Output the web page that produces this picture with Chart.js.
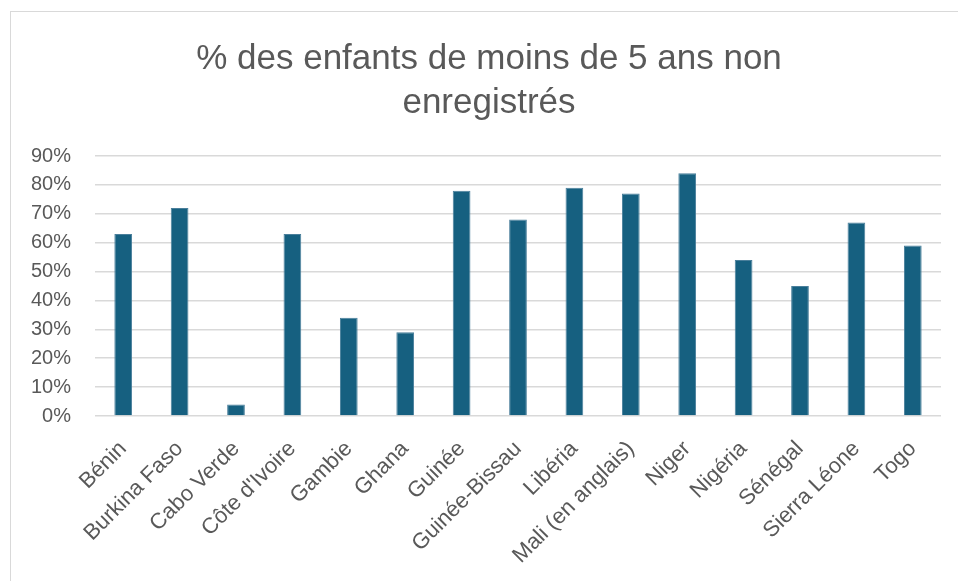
<!DOCTYPE html>
<html>
<head>
<meta charset="utf-8">
<script src="https://cdn.jsdelivr.net/npm/chart.js@4/dist/chart.umd.min.js"></script>
<style>
  html, body { margin: 0; padding: 0; background: #ffffff; }
  #frame { position: absolute; left: 10px; top: 11px; width: 980px; height: 600px; border: 1.5px solid #d9d9d9; box-sizing: border-box; }
  #wrap { position: absolute; left: 0; top: 0; width: 958px; height: 581px; }
</style>
</head>
<body>
<div id="frame"></div>
<div id="wrap"><canvas id="c" width="958" height="581"></canvas></div>
<script>
const categories = ["Bénin", "Burkina Faso", "Cabo Verde", "Côte d'Ivoire", "Gambie", "Ghana", "Guinée", "Guinée-Bissau", "Libéria", "Mali (en anglais)", "Niger", "Nigéria", "Sénégal", "Sierra Léone", "Togo"];
const values = [63, 72, 4, 63, 34, 29, 78, 68, 79, 77, 84, 54, 45, 67, 59];
const yTicks = [0, 10, 20, 30, 40, 50, 60, 70, 80, 90];
const titleLines = ["% des enfants de moins de 5 ans non", "enregistrés"];

const FONT = "'Liberation Sans', Arial, sans-serif";
const TXT = '#595959';

new Chart(document.getElementById('c'), {
  type: 'bar',
  data: {
    labels: categories,
    datasets: [{
      data: values,
      yAxisID: 'y',
      backgroundColor: '#166080',
      borderColor: '#4a7f9b',
      borderWidth: 1,
      barPercentage: 0.314,
      categoryPercentage: 1.0
    }]
  },
  options: {
    responsive: false,
    animation: false,
    devicePixelRatio: 1,
    layout: { padding: { top: 37, left: 20, right: 0, bottom: 0 } },
    plugins: {
      legend: { display: false },
      tooltip: { enabled: false },
      title: {
        display: true,
        text: titleLines,
        color: TXT,
        font: { family: FONT, size: 35, weight: 'normal', lineHeight: 1.257 },
        padding: { top: 0, bottom: 31 }
      }
    },
    scales: {
      x: {
        grid: { display: false },
        border: { display: false },
        ticks: {
          color: TXT,
          font: { family: FONT, size: 22 },
          maxRotation: 45,
          minRotation: 45,
          autoSkip: false,
          padding: 12
        },
        afterFit: s => { s.height = 165; }
      },
      y: {
        position: 'left',
        min: 0,
        max: 90,
        afterBuildTicks: s => { s.ticks = yTicks.map(v => ({ value: v })); },
        grid: { color: '#d9d9d9', lineWidth: 1.5, drawTicks: false },
        border: { display: false },
        ticks: {
          color: TXT,
          font: { family: FONT, size: 20 },
          padding: 24,
          callback: v => v + '%'
        },
        afterFit: s => { s.width = 75; }
      },
      yRight: {
        position: 'right',
        display: true,
        min: 0,
        max: 90,
        grid: { display: false, drawTicks: false },
        border: { display: false },
        ticks: { display: false },
        afterFit: s => { s.width = 17; }
      }
    }
  }
});
</script>
</body>
</html>
